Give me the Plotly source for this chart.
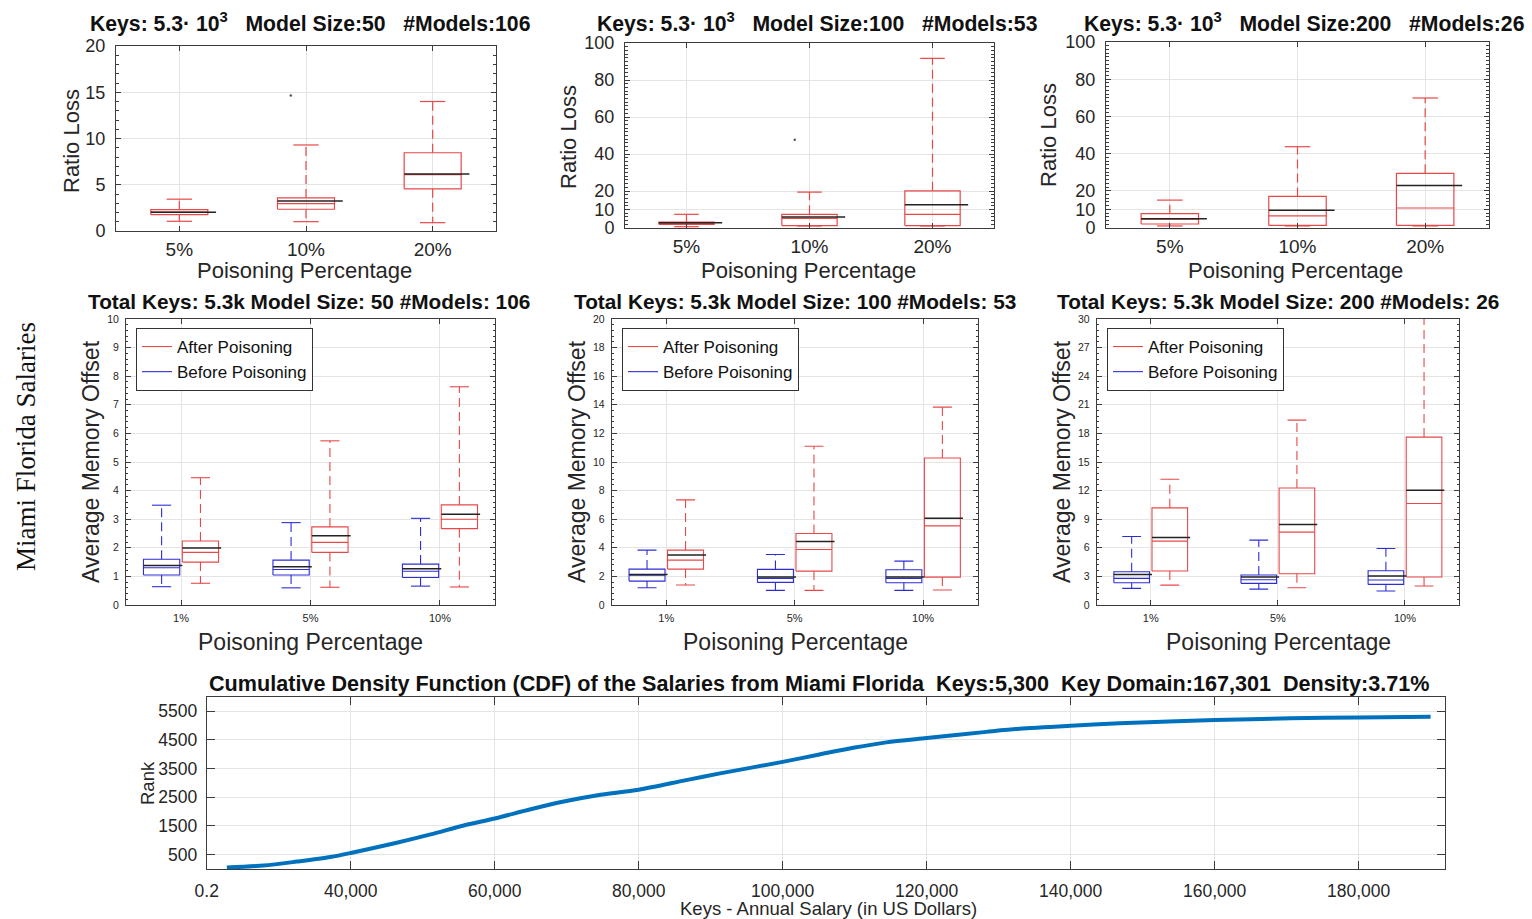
import plotly.graph_objects as go

W, H = 1532, 919

# ---------------- data ----------------
TOP_CATS = ["5%", "10%", "20%"]
MID_CATS = ["1%", "5%", "10%"]

# Ratio loss, model size 50 / 100 / 200 (top row)
RL50_LOW = [1.05, 1.01, 0.90]
RL50_Q1 = [1.77, 2.35, 4.56]
RL50_MED = [2.03, 2.95, 6.10]
RL50_Q3 = [2.31, 3.58, 8.46]
RL50_HIGH = [3.44, 9.30, 14.0]
RL50_MEAN = [2.03, 3.25, 6.15]
RL50_OUT = [None, 14.65, None]

RL100_LOW = [0.7, 1.1, 1.1]
RL100_Q1 = [2.0, 1.3, 1.3]
RL100_MED = [2.5, 5.2, 7.4]
RL100_Q3 = [3.2, 7.4, 20.1]
RL100_HIGH = [7.4, 19.4, 91.7]
RL100_MEAN = [2.9, 5.9, 12.6]
RL100_OUT = [None, 47.7, None]

RL200_LOW = [1.1, 1.1, 1.1]
RL200_Q1 = [2.15, 1.4, 1.4]
RL200_MED = [4.8, 6.5, 10.75]
RL200_Q3 = [7.7, 17.0, 29.4]
RL200_HIGH = [15.0, 43.7, 69.9]
RL200_MEAN = [5.0, 9.5, 22.8]
RL200_OUT = [None, None, None]

# Average memory offset (middle row), before / after poisoning
MO50_B_LOW = [0.64, 0.60, 0.66]
MO50_B_Q1 = [1.05, 1.05, 0.96]
MO50_B_MED = [1.30, 1.24, 1.18]
MO50_B_Q3 = [1.60, 1.57, 1.43]
MO50_B_HIGH = [3.49, 2.88, 3.03]
MO50_B_MEAN = [1.38, 1.34, 1.27]
MO50_A_LOW = [0.76, 0.62, 0.63]
MO50_A_Q1 = [1.50, 1.84, 2.67]
MO50_A_MED = [1.84, 2.19, 3.00]
MO50_A_Q3 = [2.24, 2.73, 3.50]
MO50_A_HIGH = [4.45, 5.74, 7.63]
MO50_A_MEAN = [1.99, 2.42, 3.17]

MO100_B_LOW = [1.21, 1.02, 1.02]
MO100_B_Q1 = [1.67, 1.58, 1.56]
MO100_B_MED = [2.09, 1.86, 1.86]
MO100_B_Q3 = [2.51, 2.49, 2.47]
MO100_B_HIGH = [3.84, 3.53, 3.07]
MO100_B_MEAN = [2.14, 1.95, 1.95]
MO100_A_LOW = [1.40, 1.02, 1.05]
MO100_A_Q1 = [2.51, 2.37, 1.95]
MO100_A_MED = [3.14, 3.88, 5.53]
MO100_A_Q3 = [3.84, 5.00, 10.28]
MO100_A_HIGH = [7.35, 11.1, 13.84]
MO100_A_MEAN = [3.49, 4.44, 6.07]

MO200_B_LOW = [1.74, 1.67, 1.47]
MO200_B_Q1 = [2.34, 2.27, 2.16]
MO200_B_MED = [2.79, 2.65, 2.62]
MO200_B_Q3 = [3.49, 3.14, 3.59]
MO200_B_HIGH = [7.19, 6.80, 5.93]
MO200_B_MEAN = [3.21, 2.93, 3.03]
MO200_A_LOW = [2.09, 1.81, 1.99]
MO200_A_Q1 = [3.56, 3.28, 2.93]
MO200_A_MED = [6.70, 7.64, 10.64]
MO200_A_Q3 = [10.19, 12.28, 17.61]
MO200_A_HIGH = [13.19, 19.39, 33.0]
MO200_A_MEAN = [7.08, 8.44, 12.03]

# CDF of salaries (bottom)
SALARY = [22800, 27900, 32500, 37200, 40000, 46400, 51100, 55700, 60000, 65000,
          69600, 74300, 80000, 86600, 91300, 100000, 105100, 109800, 114400, 120000,
          128300, 132900, 140000, 146800, 160000, 170600, 180000, 190000]
RANK = [50, 120, 258, 419, 558, 916, 1204, 1516, 1759, 2080,
        2350, 2570, 2760, 3095, 3330, 3730, 3990, 4220, 4410, 4560,
        4775, 4885, 4990, 5075, 5188, 5246, 5280, 5304]
SAL_TICKS = [20000, 40000, 60000, 80000, 100000, 120000, 140000, 160000, 180000]
SAL_TICKTEXT = ["0.2", "40,000", "60,000", "80,000", "100,000", "120,000", "140,000", "160,000", "180,000"]
RANK_TICKS = [500, 1500, 2500, 3500, 4500, 5500]

# ---------------- styles ----------------
FONT = "Liberation Sans, Arial, Helvetica, sans-serif"
SERIF = "Liberation Serif, Times New Roman, serif"
TXT = "#262626"
FRAME = "#3c3c3c"
GRID = "#e4e4e4"
RED = "rgb(232,72,72)"
BLUE = "rgb(45,45,215)"
MEANC = "rgb(35,35,35)"
CDFC = "rgb(0,114,189)"
DASH = "9px,5px"


def px_x(x):
    return x / W


def px_y(y):
    return 1 - y / H


fig = go.Figure()


def refs(n):
    return ("x" if n == 1 else f"x{n}"), ("y" if n == 1 else f"y{n}")


def add_boxes(n, pos, low, q1, med, q3, high, mean, color, half, cap, ext, lw,
              name=None, legend=None):
    xr, yr = refs(n)
    wx, wy, cx, cy, bx, by, mx, my = [], [], [], [], [], [], [], []
    for p, lo, a, m, b, hi, mn in zip(pos, low, q1, med, q3, high, mean):
        wx += [p, p, None, p, p, None]
        wy += [b, hi, None, a, lo, None]
        cx += [p - cap, p + cap, None, p - cap, p + cap, None]
        cy += [hi, hi, None, lo, lo, None]
        bx += [p - half, p + half, p + half, p - half, p - half, None, p - half, p + half, None]
        by += [a, a, b, b, a, None, m, m, None]
        mx += [p - half, p + half + ext, None]
        my += [mn, mn, None]
    common = dict(mode="lines", xaxis=xr, yaxis=yr, hoverinfo="skip")
    fig.add_trace(go.Scatter(x=wx, y=wy, line=dict(color=color, width=lw, dash=DASH),
                             showlegend=False, **common))
    fig.add_trace(go.Scatter(x=cx, y=cy, line=dict(color=color, width=lw),
                             showlegend=False, **common))
    fig.add_trace(go.Scatter(x=bx, y=by, line=dict(color=color, width=lw),
                             showlegend=name is not None, name=name or "",
                             legend=legend or "legend", **common))
    fig.add_trace(go.Scatter(x=mx, y=my, line=dict(color=MEANC, width=1.5),
                             showlegend=False, **common))


def base_axis(**kw):
    d = dict(showline=True, linecolor=FRAME, linewidth=1, mirror="ticks",
             ticks="inside", tickcolor=FRAME, ticklen=5, tickwidth=1,
             showgrid=True, gridcolor=GRID, gridwidth=1, zeroline=False,
             automargin=False,
             tickfont=dict(family=FONT, color=TXT, size=19))
    d.update(kw)
    return d


def ann(text, x, y, size, bold=False, angle=0, family=FONT, color=TXT):
    fig.add_annotation(text=(f"<b>{text}</b>" if bold else text), x=px_x(x), y=px_y(y),
                       xref="paper", yref="paper", showarrow=False, textangle=angle,
                       xanchor="center", yanchor="middle",
                       font=dict(family=family, size=size, color=color))


layout_axes = {}
NB = "\u00a0"

# ---------------- top row ----------------
TOP = [
    dict(n=1, stats=(RL50_LOW, RL50_Q1, RL50_MED, RL50_Q3, RL50_HIGH, RL50_MEAN), out=RL50_OUT,
         yr=[0, 20], yt=[0, 5, 10, 15, 20], minor=1, dx=(116, 496), dy=(46, 231),
         title=f"Keys: 5.3· 10<sup>3</sup>{NB*2} Model Size:50{NB*2} #Models:106",
         t=(310, 22), yl=(71, 141), xl=(304, 270)),
    dict(n=2, stats=(RL100_LOW, RL100_Q1, RL100_MED, RL100_Q3, RL100_HIGH, RL100_MEAN), out=RL100_OUT,
         yr=[0, 100], yt=[0, 10, 20, 40, 60, 80, 100], minor=2, dx=(625, 994), dy=(43, 228),
         title=f"Keys: 5.3· 10<sup>3</sup>{NB*2} Model Size:100{NB*2} #Models:53",
         t=(817, 22), yl=(568, 137), xl=(808, 270)),
    dict(n=3, stats=(RL200_LOW, RL200_Q1, RL200_MED, RL200_Q3, RL200_HIGH, RL200_MEAN), out=RL200_OUT,
         yr=[0, 100], yt=[0, 10, 20, 40, 60, 80, 100], minor=2, dx=(1106, 1489), dy=(42, 228),
         title=f"Keys: 5.3· 10<sup>3</sup>{NB*2} Model Size:200{NB*2} #Models:26",
         t=(1304, 22), yl=(1049, 135), xl=(1295, 270)),
]

for P in TOP:
    n = P["n"]
    pos = [i + 1 for i in range(len(TOP_CATS))]
    low, q1, med, q3, high, mean = P["stats"]
    add_boxes(n, pos, low, q1, med, q3, high, mean, RED, 0.225, 0.1, 0.065, 1.2)
    ox = [p - 0.12 for p, o in zip(pos, P["out"]) if o is not None]
    oy = [o for o in P["out"] if o is not None]
    if oy:
        xr, yr = refs(n)
        fig.add_trace(go.Scatter(x=ox, y=oy, mode="markers", xaxis=xr, yaxis=yr,
                                 marker=dict(color="#555555", size=2.5), showlegend=False,
                                 hoverinfo="skip"))
    key = "" if n == 1 else str(n)
    layout_axes["xaxis" + key] = base_axis(
        domain=[px_x(P["dx"][0]), px_x(P["dx"][1])], range=[0.5, 3.5],
        tickvals=pos, ticktext=TOP_CATS, anchor=refs(n)[1], ticklabelstandoff=1)
    layout_axes["yaxis" + key] = base_axis(
        domain=[px_y(P["dy"][1]), px_y(P["dy"][0])], range=P["yr"], tickvals=P["yt"],
        anchor=refs(n)[0], ticklabelstandoff=6,
        tickfont=dict(family=FONT, color=TXT, size=18),
        minor=dict(ticks="inside", ticklen=3, tickcolor=FRAME, dtick=P["minor"], showgrid=False))
    ann(P["title"], P["t"][0], P["t"][1], 21.2, bold=True, color="#111111")
    ann("Ratio Loss", P["yl"][0], P["yl"][1], 22, angle=-90)
    ann("Poisoning Percentage", P["xl"][0], P["xl"][1], 22)

# ---------------- middle row ----------------
MID = [
    dict(n=4, b=(MO50_B_LOW, MO50_B_Q1, MO50_B_MED, MO50_B_Q3, MO50_B_HIGH, MO50_B_MEAN),
         a=(MO50_A_LOW, MO50_A_Q1, MO50_A_MED, MO50_A_Q3, MO50_A_HIGH, MO50_A_MEAN),
         yr=[0, 10], dt=1, dx=(126, 495), title="Total Keys: 5.3k Model Size: 50 #Models: 106",
         t=(309, 302), yl=(91, 462), xl=(310, 642), leg="legend", lx=136),
    dict(n=5, b=(MO100_B_LOW, MO100_B_Q1, MO100_B_MED, MO100_B_Q3, MO100_B_HIGH, MO100_B_MEAN),
         a=(MO100_A_LOW, MO100_A_Q1, MO100_A_MED, MO100_A_Q3, MO100_A_HIGH, MO100_A_MEAN),
         yr=[0, 20], dt=2, dx=(611.7, 977.7), title="Total Keys: 5.3k Model Size: 100 #Models: 53",
         t=(795, 302), yl=(577, 462), xl=(795, 642), leg="legend2", lx=622),
    dict(n=6, b=(MO200_B_LOW, MO200_B_Q1, MO200_B_MED, MO200_B_Q3, MO200_B_HIGH, MO200_B_MEAN),
         a=(MO200_A_LOW, MO200_A_Q1, MO200_A_MED, MO200_A_Q3, MO200_A_HIGH, MO200_A_MEAN),
         yr=[0, 30], dt=3, dx=(1096.7, 1459), title="Total Keys: 5.3k Model Size: 200 #Models: 26",
         t=(1278, 302), yl=(1062, 462), xl=(1278, 642), leg="legend3", lx=1107),
]
MID_DY = (319, 605)

for P in MID:
    n = P["n"]
    pos = [i + 1 for i in range(len(MID_CATS))]
    add_boxes(n, [p + 0.15 for p in pos], *P["a"], RED, 0.14, 0.074, 0.02, 1.1,
              name="After Poisoning", legend=P["leg"])
    add_boxes(n, [p - 0.15 for p in pos], *P["b"], BLUE, 0.14, 0.074, 0.02, 1.1,
              name="Before Poisoning", legend=P["leg"])
    key = str(n)
    layout_axes["xaxis" + key] = base_axis(
        domain=[px_x(P["dx"][0]), px_x(P["dx"][1])], range=[0.575, 3.425],
        tickvals=pos, ticktext=MID_CATS, anchor="y" + key, ticklabelstandoff=3,
        tickfont=dict(family=FONT, color=TXT, size=11))
    yt = [P["dt"] * k for k in range(int(P["yr"][1] / P["dt"]) + 1)]
    layout_axes["yaxis" + key] = base_axis(
        domain=[px_y(MID_DY[1]), px_y(MID_DY[0])], range=P["yr"], tickvals=yt,
        anchor="x" + key, ticklabelstandoff=4,
        tickfont=dict(family=FONT, color=TXT, size=10.5),
        minor=dict(ticks="inside", ticklen=2, tickcolor=FRAME, dtick=P["dt"] / 5, showgrid=False))
    layout_axes[P["leg"]] = dict(
        x=px_x(P["lx"]), y=px_y(328), xanchor="left", yanchor="top",
        bgcolor="white", bordercolor="#333333", borderwidth=1,
        font=dict(family=FONT, size=17, color="#111111"), tracegroupgap=0,
        itemwidth=30, traceorder="normal")
    ann(P["title"], P["t"][0], P["t"][1], 20.8, bold=True, color="#111111")
    ann("Average Memory Offset", P["yl"][0], P["yl"][1], 23, angle=-90)
    ann("Poisoning Percentage", P["xl"][0], P["xl"][1], 23)

ann("Miami Florida Salaries", 26, 447, 27, angle=-90, family=SERIF, color="#111111")

# ---------------- bottom row ----------------
fig.add_trace(go.Scatter(x=SALARY, y=RANK, mode="lines", xaxis="x7", yaxis="y7",
                         line=dict(color=CDFC, width=4, shape="spline", smoothing=0.8),
                         showlegend=False, hoverinfo="skip"))
layout_axes["xaxis7"] = base_axis(
    domain=[px_x(206.7), px_x(1445)], range=[20000, 192000], tickvals=SAL_TICKS,
    ticktext=SAL_TICKTEXT, anchor="y7", ticklen=8, ticklabelstandoff=6,
    tickfont=dict(family=FONT, color=TXT, size=17.5))
layout_axes["yaxis7"] = base_axis(
    domain=[px_y(869), px_y(696.7)], range=[0, 6000], tickvals=RANK_TICKS, anchor="x7",
    ticklen=8, ticklabelstandoff=5, tickfont=dict(family=FONT, color=TXT, size=17.5))
ann("Cumulative Density Function (CDF) of the Salaries from Miami Florida"
    f"{NB*2}Keys:5,300{NB*2}Key Domain:167,301{NB*2}Density:3.71%", 819, 683, 21.6,
    bold=True, color="#111111")
ann("Rank", 147, 783, 18.5, angle=-90)
ann("Keys - Annual Salary (in US Dollars)", 828, 908, 18.5)

fig.update_layout(width=W, height=H,
                  margin=dict(l=0, r=0, t=0, b=0, pad=0, autoexpand=False),
                  paper_bgcolor="white", plot_bgcolor="white", showlegend=True,
                  **layout_axes)

fig.write_html(
    "out.html",
    post_script=(
        "var d=document.getElementById('{plot_id}');"
        "d.style.position='fixed';d.style.left='0px';d.style.top='0px';"
        "document.documentElement.style.margin='0';document.documentElement.style.overflow='hidden';"
        "document.body.style.margin='0';document.body.style.overflow='hidden';"
    ),
)
